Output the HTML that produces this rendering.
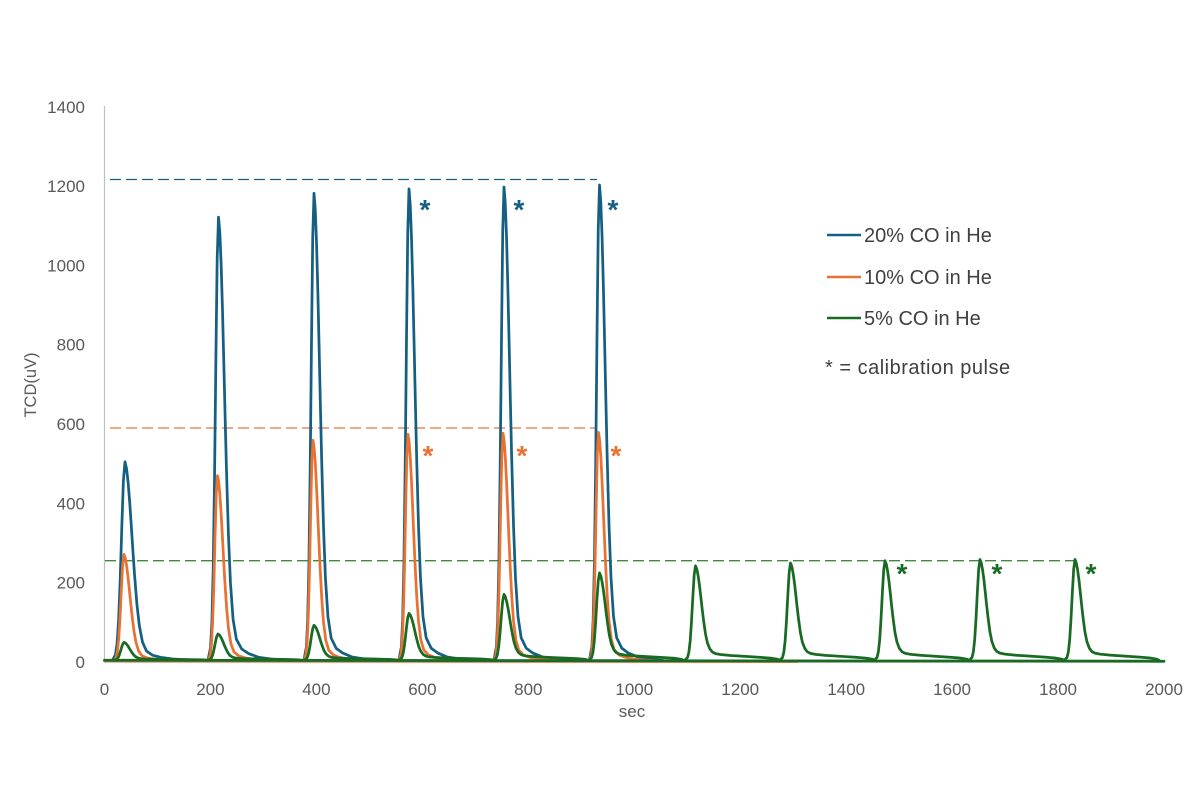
<!DOCTYPE html>
<html><head><meta charset="utf-8"><style>
html,body{margin:0;padding:0;background:#fff;}
svg{display:block;}
text{font-family:"Liberation Sans",sans-serif;}
</style></head><body>
<svg width="1200" height="800" viewBox="0 0 1200 800" xmlns="http://www.w3.org/2000/svg">
<rect width="1200" height="800" fill="#fff"/>
<!-- axes -->
<line x1="104.5" y1="106" x2="104.5" y2="662.5" stroke="#bfbfbf" stroke-width="1.2"/>
<line x1="104.5" y1="662.5" x2="1164" y2="662.5" stroke="#d0d0d0" stroke-width="1.2"/>
<!-- y labels -->
<g font-size="17" fill="#595959" text-anchor="end">
<text x="85" y="668">0</text>
<text x="85" y="588.7">200</text>
<text x="85" y="509.4">400</text>
<text x="85" y="430">600</text>
<text x="85" y="350.7">800</text>
<text x="85" y="271.4">1000</text>
<text x="85" y="192.1">1200</text>
<text x="85" y="112.8">1400</text>
</g>
<g font-size="17" fill="#595959" text-anchor="middle">
<text x="104.5" y="695">0</text>
<text x="210.4" y="695">200</text>
<text x="316.4" y="695">400</text>
<text x="422.4" y="695">600</text>
<text x="528.3" y="695">800</text>
<text x="634.3" y="695">1000</text>
<text x="740.2" y="695">1200</text>
<text x="846.2" y="695">1400</text>
<text x="952.1" y="695">1600</text>
<text x="1058.1" y="695">1800</text>
<text x="1164" y="695">2000</text>
</g>
<text x="632" y="717" font-size="17" fill="#595959" text-anchor="middle">sec</text>
<text transform="translate(36,385) rotate(-90)" font-size="16.5" fill="#595959" text-anchor="middle">TCD(uV)</text>

<!-- dashed reference lines -->
<line x1="110" y1="179.5" x2="597" y2="179.5" stroke="#156082" stroke-width="1.3" stroke-dasharray="11 5"/>
<line x1="110" y1="428" x2="597" y2="428" stroke="#E97132" stroke-width="1.3" stroke-dasharray="11 5"/>
<line x1="105" y1="560.7" x2="1075" y2="560.7" stroke="#3f8a3a" stroke-width="1.3" stroke-dasharray="11 5"/>

<!-- blue series -->
<g fill="none" stroke="#156082" stroke-width="2.75" stroke-linejoin="round" stroke-linecap="round">
<line x1="104.5" y1="660.5" x2="640" y2="660.8"/>
<path vector-effect="non-scaling-stroke" transform="translate(125,660.5) scale(1.5,1.987)" d="M-8.48,0 L-6.36,-2.9 L-5.3,-8.5 L-4.24,-20.6 L-3.18,-41.1 L-2.12,-67.4 L-1.06,-90.6 L0,-100 L1.06,-96.5 L2.12,-89.3 L3.18,-79.2 L4.24,-67.3 L5.3,-54.9 L6.36,-43.2 L7.95,-28.3 L9.54,-17.6 L11.65,-9.3 L14.3,-4.8 L18.54,-2.6 L23.84,-1.6 L31.79,-0.75 L42.38,-0.3 L52.98,0"/>
<path vector-effect="non-scaling-stroke" transform="translate(218.5,660.5) scale(1.25,4.434)" d="M-8.48,0 L-6.36,-2.9 L-5.3,-8.5 L-4.24,-20.6 L-3.18,-41.1 L-2.12,-67.4 L-1.06,-90.6 L0,-100 L1.06,-96.5 L2.12,-89.3 L3.18,-79.2 L4.24,-67.3 L5.3,-54.9 L6.36,-43.2 L7.95,-28.3 L9.54,-17.6 L11.65,-9.3 L14.3,-4.8 L18.54,-2.6 L23.84,-1.6 L31.79,-0.75 L42.38,-0.3 L52.98,0"/>
<path vector-effect="non-scaling-stroke" transform="translate(314,660.5) scale(1.2,4.672)" d="M-8.48,0 L-6.36,-2.9 L-5.3,-8.5 L-4.24,-20.6 L-3.18,-41.1 L-2.12,-67.4 L-1.06,-90.6 L0,-100 L1.06,-96.5 L2.12,-89.3 L3.18,-79.2 L4.24,-67.3 L5.3,-54.9 L6.36,-43.2 L7.95,-28.3 L9.54,-17.6 L11.65,-9.3 L14.3,-4.8 L18.54,-2.6 L23.84,-1.6 L31.79,-0.75 L42.38,-0.3 L52.98,0"/>
<path vector-effect="non-scaling-stroke" transform="translate(409,660.5) scale(1.2,4.716)" d="M-8.48,0 L-6.36,-2.9 L-5.3,-8.5 L-4.24,-20.6 L-3.18,-41.1 L-2.12,-67.4 L-1.06,-90.6 L0,-100 L1.06,-96.5 L2.12,-89.3 L3.18,-79.2 L4.24,-67.3 L5.3,-54.9 L6.36,-43.2 L7.95,-28.3 L9.54,-17.6 L11.65,-9.3 L14.3,-4.8 L18.54,-2.6 L23.84,-1.6 L31.79,-0.75 L42.38,-0.3 L52.98,0"/>
<path vector-effect="non-scaling-stroke" transform="translate(504,660.5) scale(1.2,4.735)" d="M-8.48,0 L-6.36,-2.9 L-5.3,-8.5 L-4.24,-20.6 L-3.18,-41.1 L-2.12,-67.4 L-1.06,-90.6 L0,-100 L1.06,-96.5 L2.12,-89.3 L3.18,-79.2 L4.24,-67.3 L5.3,-54.9 L6.36,-43.2 L7.95,-28.3 L9.54,-17.6 L11.65,-9.3 L14.3,-4.8 L18.54,-2.6 L23.84,-1.6 L31.79,-0.75 L42.38,-0.3 L52.98,0"/>
<path vector-effect="non-scaling-stroke" transform="translate(599.5,660.5) scale(1.2,4.755)" d="M-8.48,0 L-6.36,-2.9 L-5.3,-8.5 L-4.24,-20.6 L-3.18,-41.1 L-2.12,-67.4 L-1.06,-90.6 L0,-100 L1.06,-96.5 L2.12,-89.3 L3.18,-79.2 L4.24,-67.3 L5.3,-54.9 L6.36,-43.2 L7.95,-28.3 L9.54,-17.6 L11.65,-9.3 L14.3,-4.8 L18.54,-2.6 L23.84,-1.6 L31.79,-0.75 L42.38,-0.3 L52.98,0"/>
</g>

<!-- orange series -->
<g fill="none" stroke="#E97132" stroke-width="2.75" stroke-linejoin="round" stroke-linecap="round">
<line x1="104.5" y1="660.8" x2="797" y2="661.5"/>
<path vector-effect="non-scaling-stroke" transform="translate(124,660.8) scale(1.25,1.063)" d="M-8.48,0 L-6.36,-2.9 L-5.3,-8.5 L-4.24,-20.6 L-3.18,-41.1 L-2.12,-67.4 L-1.06,-90.6 L0,-100 L1.06,-96.5 L2.12,-89.3 L3.18,-79.2 L4.24,-67.3 L5.3,-54.9 L6.36,-43.2 L7.95,-28.3 L9.54,-17.6 L11.65,-9.3 L14.3,-4.8 L18.54,-2.6 L23.84,-1.6 L31.79,-0.75 L42.38,-0.3 L52.98,0"/>
<path vector-effect="non-scaling-stroke" transform="translate(217.5,660.8) scale(1.15,1.852)" d="M-8.48,0 L-6.36,-2.9 L-5.3,-8.5 L-4.24,-20.6 L-3.18,-41.1 L-2.12,-67.4 L-1.06,-90.6 L0,-100 L1.06,-96.5 L2.12,-89.3 L3.18,-79.2 L4.24,-67.3 L5.3,-54.9 L6.36,-43.2 L7.95,-28.3 L9.54,-17.6 L11.65,-9.3 L14.3,-4.8 L18.54,-2.6 L23.84,-1.6 L31.79,-0.75 L42.38,-0.3 L52.98,0"/>
<path vector-effect="non-scaling-stroke" transform="translate(313,660.8) scale(1.1,2.205)" d="M-8.48,0 L-6.36,-2.9 L-5.3,-8.5 L-4.24,-20.6 L-3.18,-41.1 L-2.12,-67.4 L-1.06,-90.6 L0,-100 L1.06,-96.5 L2.12,-89.3 L3.18,-79.2 L4.24,-67.3 L5.3,-54.9 L6.36,-43.2 L7.95,-28.3 L9.54,-17.6 L11.65,-9.3 L14.3,-4.8 L18.54,-2.6 L23.84,-1.6 L31.79,-0.75 L42.38,-0.3 L52.98,0"/>
<path vector-effect="non-scaling-stroke" transform="translate(408,660.8) scale(1.1,2.265)" d="M-8.48,0 L-6.36,-2.9 L-5.3,-8.5 L-4.24,-20.6 L-3.18,-41.1 L-2.12,-67.4 L-1.06,-90.6 L0,-100 L1.06,-96.5 L2.12,-89.3 L3.18,-79.2 L4.24,-67.3 L5.3,-54.9 L6.36,-43.2 L7.95,-28.3 L9.54,-17.6 L11.65,-9.3 L14.3,-4.8 L18.54,-2.6 L23.84,-1.6 L31.79,-0.75 L42.38,-0.3 L52.98,0"/>
<path vector-effect="non-scaling-stroke" transform="translate(503,660.8) scale(1.1,2.276)" d="M-8.48,0 L-6.36,-2.9 L-5.3,-8.5 L-4.24,-20.6 L-3.18,-41.1 L-2.12,-67.4 L-1.06,-90.6 L0,-100 L1.06,-96.5 L2.12,-89.3 L3.18,-79.2 L4.24,-67.3 L5.3,-54.9 L6.36,-43.2 L7.95,-28.3 L9.54,-17.6 L11.65,-9.3 L14.3,-4.8 L18.54,-2.6 L23.84,-1.6 L31.79,-0.75 L42.38,-0.3 L52.98,0"/>
<path vector-effect="non-scaling-stroke" transform="translate(598.5,660.8) scale(1.1,2.284)" d="M-8.48,0 L-6.36,-2.9 L-5.3,-8.5 L-4.24,-20.6 L-3.18,-41.1 L-2.12,-67.4 L-1.06,-90.6 L0,-100 L1.06,-96.5 L2.12,-89.3 L3.18,-79.2 L4.24,-67.3 L5.3,-54.9 L6.36,-43.2 L7.95,-28.3 L9.54,-17.6 L11.65,-9.3 L14.3,-4.8 L18.54,-2.6 L23.84,-1.6 L31.79,-0.75 L42.38,-0.3 L52.98,0"/>
</g>

<!-- green series -->
<g fill="none" stroke="#196B24" stroke-width="2.75" stroke-linejoin="round" stroke-linecap="round">
<line x1="104.5" y1="660.2" x2="1164" y2="661.2"/>
<path vector-effect="non-scaling-stroke" transform="translate(124,660.2) scale(1,0.178)" d="M-10.6,0 L-7.95,-2.9 L-6.6,-8.5 L-5.3,-20.6 L-4,-41.1 L-2.65,-67.4 L-1.3,-90.6 L0,-100 L1.3,-96.5 L2.65,-89.3 L4,-79.2 L5.3,-67.3 L6.6,-54.9 L7.95,-43.2 L9.9,-28.3 L11.9,-18.5 L14.3,-12 L17,-8.5 L20,-7 L25,-6 L35,-5 L50,-4 L65,-3 L75,-2.2 L82,-1 L84,0"/>
<path vector-effect="non-scaling-stroke" transform="translate(218,660.2) scale(1,0.262)" d="M-10.6,0 L-7.95,-2.9 L-6.6,-8.5 L-5.3,-20.6 L-4,-41.1 L-2.65,-67.4 L-1.3,-90.6 L0,-100 L1.3,-96.5 L2.65,-89.3 L4,-79.2 L5.3,-67.3 L6.6,-54.9 L7.95,-43.2 L9.9,-28.3 L11.9,-18.5 L14.3,-12 L17,-8.5 L20,-7 L25,-6 L35,-5 L50,-4 L65,-3 L75,-2.2 L82,-1 L84,0"/>
<path vector-effect="non-scaling-stroke" transform="translate(314,660.2) scale(1,0.349)" d="M-10.6,0 L-7.95,-2.9 L-6.6,-8.5 L-5.3,-20.6 L-4,-41.1 L-2.65,-67.4 L-1.3,-90.6 L0,-100 L1.3,-96.5 L2.65,-89.3 L4,-79.2 L5.3,-67.3 L6.6,-54.9 L7.95,-43.2 L9.9,-28.3 L11.9,-18.5 L14.3,-12 L17,-8.5 L20,-7 L25,-6 L35,-5 L50,-4 L65,-3 L75,-2.2 L82,-1 L84,0"/>
<path vector-effect="non-scaling-stroke" transform="translate(409,660.2) scale(1,0.468)" d="M-10.6,0 L-7.95,-2.9 L-6.6,-8.5 L-5.3,-20.6 L-4,-41.1 L-2.65,-67.4 L-1.3,-90.6 L0,-100 L1.3,-96.5 L2.65,-89.3 L4,-79.2 L5.3,-67.3 L6.6,-54.9 L7.95,-43.2 L9.9,-28.3 L11.9,-18.5 L14.3,-12 L17,-8.5 L20,-7 L25,-6 L35,-5 L50,-4 L65,-3 L75,-2.2 L82,-1 L84,0"/>
<path vector-effect="non-scaling-stroke" transform="translate(504,660.2) scale(1,0.658)" d="M-10.6,0 L-7.95,-2.9 L-6.6,-8.5 L-5.3,-20.6 L-4,-41.1 L-2.65,-67.4 L-1.3,-90.6 L0,-100 L1.3,-96.5 L2.65,-89.3 L4,-79.2 L5.3,-67.3 L6.6,-54.9 L7.95,-43.2 L9.9,-28.3 L11.9,-18.5 L14.3,-12 L17,-8.5 L20,-7 L25,-6 L35,-5 L50,-4 L65,-3 L75,-2.2 L82,-1 L84,0"/>
<path vector-effect="non-scaling-stroke" transform="translate(599.5,660.2) scale(1,0.873)" d="M-10.6,0 L-7.95,-2.9 L-6.6,-8.5 L-5.3,-20.6 L-4,-41.1 L-2.65,-67.4 L-1.3,-90.6 L0,-100 L1.3,-96.5 L2.65,-89.3 L4,-79.2 L5.3,-67.3 L6.6,-54.9 L7.95,-43.2 L9.9,-28.3 L11.9,-18.5 L14.3,-12 L17,-8.5 L20,-7 L25,-6 L35,-5 L50,-4 L65,-3 L75,-2.2 L82,-1 L84,0"/>
<path vector-effect="non-scaling-stroke" transform="translate(695.5,660.2) scale(1,0.944)" d="M-10.6,0 L-7.95,-2.9 L-6.6,-8.5 L-5.3,-20.6 L-4,-41.1 L-2.65,-67.4 L-1.3,-90.6 L0,-100 L1.3,-96.5 L2.65,-89.3 L4,-79.2 L5.3,-67.3 L6.6,-54.9 L7.95,-43.2 L9.9,-28.3 L11.9,-18.5 L14.3,-12 L17,-8.5 L20,-7 L25,-6 L35,-5 L50,-4 L65,-3 L75,-2.2 L82,-1 L84,0"/>
<path vector-effect="non-scaling-stroke" transform="translate(790.5,660.2) scale(1,0.972)" d="M-10.6,0 L-7.95,-2.9 L-6.6,-8.5 L-5.3,-20.6 L-4,-41.1 L-2.65,-67.4 L-1.3,-90.6 L0,-100 L1.3,-96.5 L2.65,-89.3 L4,-79.2 L5.3,-67.3 L6.6,-54.9 L7.95,-43.2 L9.9,-28.3 L11.9,-18.5 L14.3,-12 L17,-8.5 L20,-7 L25,-6 L35,-5 L50,-4 L65,-3 L75,-2.2 L82,-1 L84,0"/>
<path vector-effect="non-scaling-stroke" transform="translate(885,660.2) scale(1,0.995)" d="M-10.6,0 L-7.95,-2.9 L-6.6,-8.5 L-5.3,-20.6 L-4,-41.1 L-2.65,-67.4 L-1.3,-90.6 L0,-100 L1.3,-96.5 L2.65,-89.3 L4,-79.2 L5.3,-67.3 L6.6,-54.9 L7.95,-43.2 L9.9,-28.3 L11.9,-18.5 L14.3,-12 L17,-8.5 L20,-7 L25,-6 L35,-5 L50,-4 L65,-3 L75,-2.2 L82,-1 L84,0"/>
<path vector-effect="non-scaling-stroke" transform="translate(980,660.2) scale(1,1.007)" d="M-10.6,0 L-7.95,-2.9 L-6.6,-8.5 L-5.3,-20.6 L-4,-41.1 L-2.65,-67.4 L-1.3,-90.6 L0,-100 L1.3,-96.5 L2.65,-89.3 L4,-79.2 L5.3,-67.3 L6.6,-54.9 L7.95,-43.2 L9.9,-28.3 L11.9,-18.5 L14.3,-12 L17,-8.5 L20,-7 L25,-6 L35,-5 L50,-4 L65,-3 L75,-2.2 L82,-1 L84,0"/>
<path vector-effect="non-scaling-stroke" transform="translate(1075,660.2) scale(1,1.007)" d="M-10.6,0 L-7.95,-2.9 L-6.6,-8.5 L-5.3,-20.6 L-4,-41.1 L-2.65,-67.4 L-1.3,-90.6 L0,-100 L1.3,-96.5 L2.65,-89.3 L4,-79.2 L5.3,-67.3 L6.6,-54.9 L7.95,-43.2 L9.9,-28.3 L11.9,-18.5 L14.3,-12 L17,-8.5 L20,-7 L25,-6 L35,-5 L50,-4 L65,-3 L75,-2.2 L82,-1 L84,0"/>
</g>

<!-- asterisks -->
<g font-size="28" font-weight="bold" text-anchor="middle">
<text x="425" y="219" fill="#156082">*</text>
<text x="519" y="219" fill="#156082">*</text>
<text x="613" y="219" fill="#156082">*</text>
<text x="428" y="465" fill="#E97132">*</text>
<text x="522" y="465" fill="#E97132">*</text>
<text x="616" y="465" fill="#E97132">*</text>
<text x="902" y="583" fill="#196B24">*</text>
<text x="997" y="583" fill="#196B24">*</text>
<text x="1091" y="583" fill="#196B24">*</text>
</g>

<!-- legend -->
<line x1="827" y1="235" x2="861" y2="235" stroke="#156082" stroke-width="2.5"/>
<line x1="827" y1="277" x2="861" y2="277" stroke="#E97132" stroke-width="2.5"/>
<line x1="827" y1="318" x2="861" y2="318" stroke="#196B24" stroke-width="2.5"/>
<g font-size="20" fill="#404040">
<text x="864" y="242">20% CO in He</text>
<text x="864" y="284">10% CO in He</text>
<text x="864" y="325">5% CO in He</text>
<text x="825" y="374" letter-spacing="0.5">* = calibration pulse</text>
</g>
</svg>
</body></html>
